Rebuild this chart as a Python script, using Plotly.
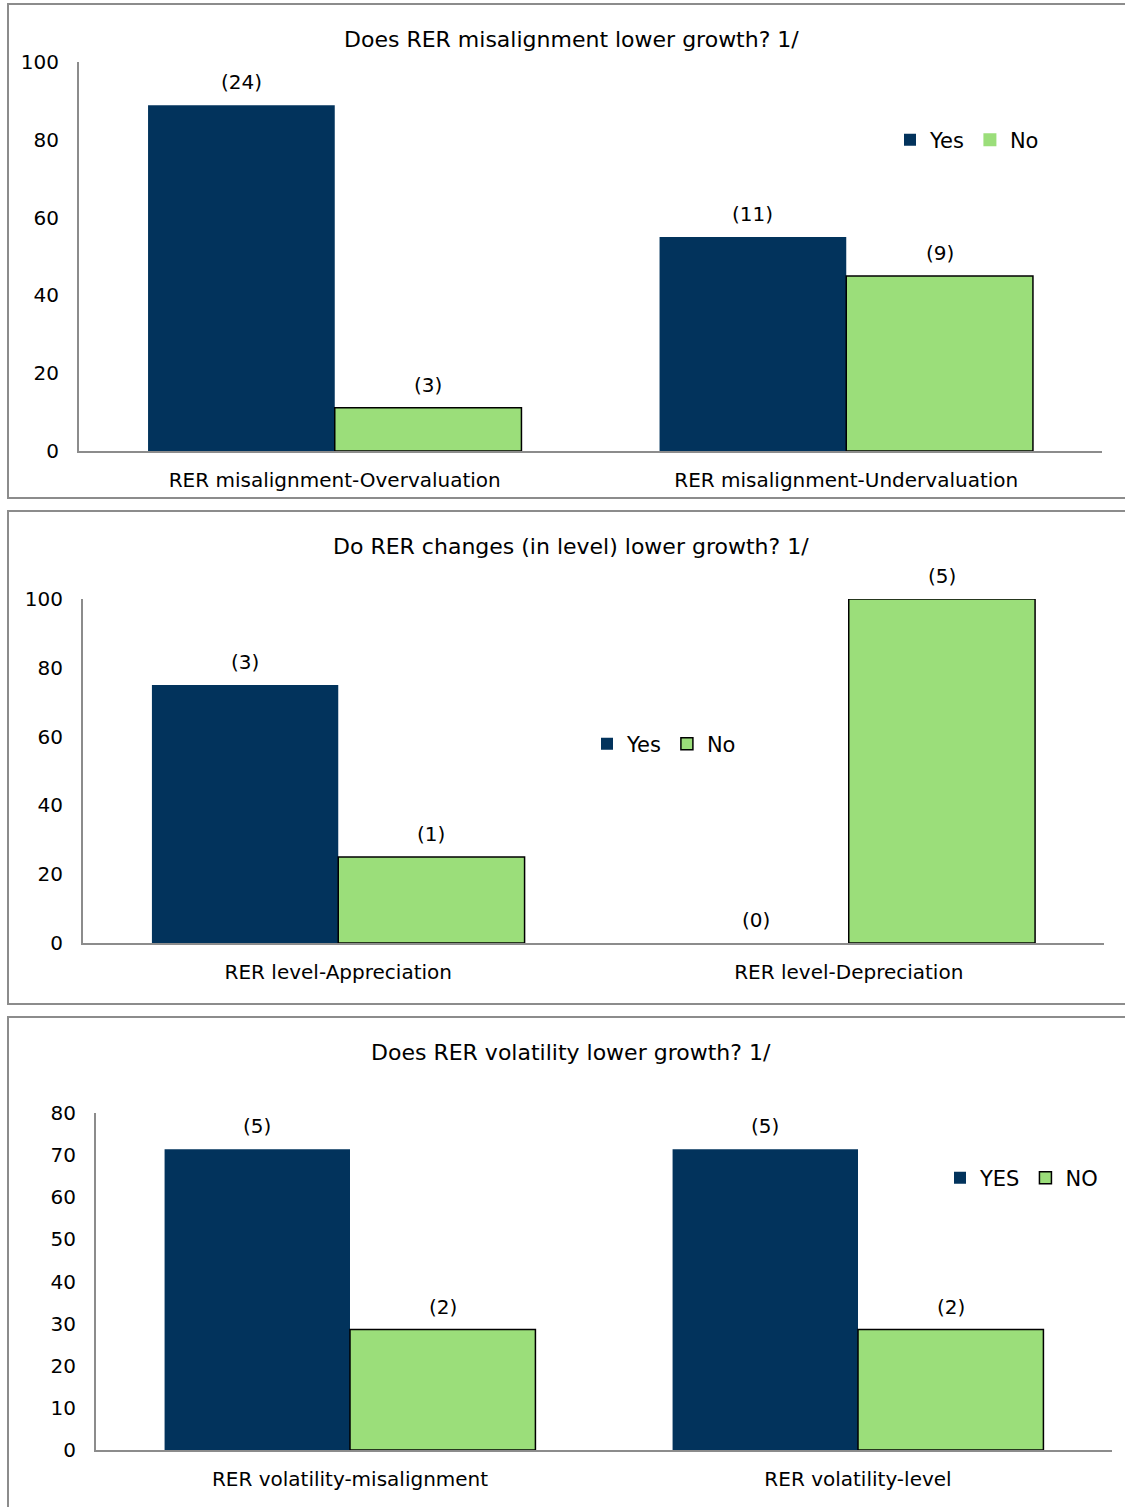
import plotly.graph_objects as go

W, H = 1125, 1507
NAVY = "#02335c"
GREEN = "#9bde7a"
GRAY = "#8c8c8c"
FONT = "DejaVu Sans, Verdana, sans-serif"

# ---- data ----
p1_title = "Does RER misalignment lower growth? 1/"
p1_cats = ["RER misalignment-Overvaluation", "RER misalignment-Undervaluation"]
p1_yes = [88.9, 55.0]
p1_no = [11.1, 45.0]
p1_yes_n = ["(24)", "(11)"]
p1_no_n = ["(3)", "(9)"]

p2_title = "Do RER changes (in level) lower growth? 1/"
p2_cats = ["RER level-Appreciation", "RER level-Depreciation"]
p2_yes = [75.0, 0.0]
p2_no = [25.0, 100.0]
p2_yes_n = ["(3)", "(0)"]
p2_no_n = ["(1)", "(5)"]

p3_title = "Does RER volatility lower growth? 1/"
p3_cats = ["RER volatility-misalignment", "RER volatility-level"]
p3_yes = [71.4, 71.4]
p3_no = [28.6, 28.6]
p3_yes_n = ["(5)", "(5)"]
p3_no_n = ["(2)", "(2)"]

y1_ticks = [0, 20, 40, 60, 80, 100]
y2_ticks = [0, 20, 40, 60, 80, 100]
y3_ticks = [0, 10, 20, 30, 40, 50, 60, 70, 80]

BARGAP = 0.27


def py(px):
    return 1 - px / H


def pxx(px):
    return px / W


panels = [
    dict(title=p1_title, cats=p1_cats, yes=p1_yes, no=p1_no, yn=p1_yes_n, nn=p1_no_n,
         ticks=y1_ticks, rng=[0, 100], names=("Yes", "No"), ax="", leg="legend",
         xdom=[pxx(79), pxx(1102)], ydom=[py(451), py(62)], title_y=40,
         box=(8, 4, 1140, 498), no_leg_outline=True,
         legpos=(890, 140)),
    dict(title=p2_title, cats=p2_cats, yes=p2_yes, no=p2_no, yn=p2_yes_n, nn=p2_no_n,
         ticks=y2_ticks, rng=[0, 100], names=("Yes", "No"), ax="2", leg="legend2",
         xdom=[pxx(83), pxx(1104)], ydom=[py(943), py(599)], title_y=546,
         box=(8, 511, 1140, 1004), no_leg_outline=False,
         legpos=(587, 744)),
    dict(title=p3_title, cats=p3_cats, yes=p3_yes, no=p3_no, yn=p3_yes_n, nn=p3_no_n,
         ticks=y3_ticks, rng=[0, 80], names=("YES", "NO"), ax="3", leg="legend3",
         xdom=[pxx(96), pxx(1112)], ydom=[py(1450), py(1113)], title_y=1052,
         box=(8, 1017, 1140, 1520), no_leg_outline=False,
         legpos=(940, 1178)),
]

fig = go.Figure()
annotations = []
shapes = []
half = (1 - BARGAP) / 4

for p in panels:
    xa = "x" + p["ax"]
    ya = "y" + p["ax"]
    fig.add_trace(go.Bar(
        x=p["cats"], y=p["yes"], name=p["names"][0], xaxis=xa, yaxis=ya,
        legend=p["leg"], marker=dict(color=NAVY, line=dict(width=0)),
        hoverinfo="x+y",
    ))
    fig.add_trace(go.Bar(
        x=p["cats"], y=p["no"], name=p["names"][1], xaxis=xa, yaxis=ya,
        legend=p["leg"], marker=dict(color=GREEN, line=dict(color="#000000", width=1.5)),
        showlegend=not p["no_leg_outline"], hoverinfo="x+y",
    ))
    if p["no_leg_outline"]:
        # legend-only entry (swatch without outline, as in the original legend)
        fig.add_trace(go.Scatter(
            x=[None], y=[None], name=p["names"][1], xaxis=xa, yaxis=ya, mode="markers",
            legend=p["leg"], marker=dict(color=GREEN, symbol="square", size=13,
                                         line=dict(width=0)),
            hoverinfo="skip",
        ))
    # count labels
    for i in range(len(p["cats"])):
        for val, lab, off in ((p["yes"][i], p["yn"][i], -half), (p["no"][i], p["nn"][i], half)):
            annotations.append(dict(
                x=i + off, y=val, xref=xa, yref=ya, text=lab, showarrow=False,
                yanchor="bottom", yshift=9, font=dict(size=20, color="#000000", family=FONT),
            ))
    # title
    annotations.append(dict(
        x=pxx(571), y=py(p["title_y"]), xref="paper", yref="paper", text=p["title"],
        showarrow=False, xanchor="center", yanchor="middle",
        font=dict(size=22, color="#000000", family=FONT),
    ))
    # panel border
    x0, y0, x1, y1 = p["box"]
    shapes.append(dict(type="rect", xref="paper", yref="paper",
                       x0=pxx(x0), x1=pxx(x1), y0=py(y1), y1=py(y0),
                       line=dict(color=GRAY, width=2), fillcolor="rgba(0,0,0,0)", layer="below"))

    xkey = "xaxis" + p["ax"]
    ykey = "yaxis" + p["ax"]
    fig.layout[xkey] = dict(
        domain=p["xdom"], anchor=ya, type="category", showline=True, linecolor=GRAY,
        linewidth=2, showgrid=False, ticks="", zeroline=False, fixedrange=True,
        tickfont=dict(size=20, color="#000000", family=FONT), ticklabelstandoff=10,
    )
    fig.layout[ykey] = dict(
        domain=p["ydom"], anchor=xa, range=p["rng"], tickmode="array", tickvals=p["ticks"],
        showline=True, linecolor=GRAY, linewidth=2, showgrid=False, zeroline=False,
        ticks="", fixedrange=True, tickfont=dict(size=20, color="#000000", family=FONT),
        ticklabelstandoff=14,
    )
    fig.layout[p["leg"]] = dict(
        orientation="h", x=pxx(p["legpos"][0]), y=py(p["legpos"][1]),
        xanchor="left", yanchor="middle", bgcolor="rgba(0,0,0,0)", borderwidth=0,
        font=dict(size=21, color="#000000", family=FONT), traceorder="normal",
        itemclick=False, itemdoubleclick=False,
    )

fig.update_layout(
    width=W, height=H, margin=dict(l=0, r=0, t=0, b=0, autoexpand=False),
    paper_bgcolor="white", plot_bgcolor="white",
    barmode="group", bargap=BARGAP, bargroupgap=0,
    annotations=annotations, shapes=shapes,
    font=dict(family=FONT, size=20, color="#000000"),
    showlegend=True,
)

fig.write_html("out.html", config={"displayModeBar": False},
               post_script="document.body.style.margin='0px';")
